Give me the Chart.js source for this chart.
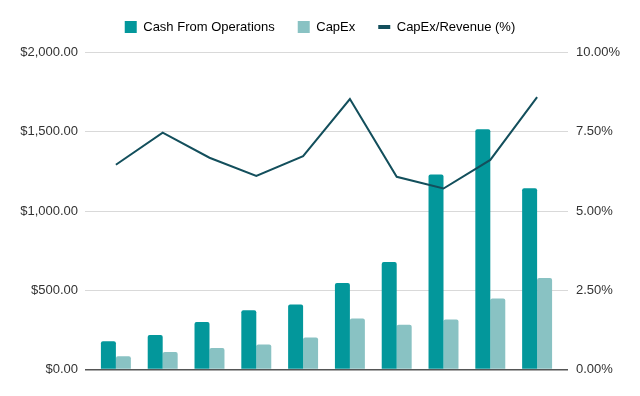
<!DOCTYPE html>
<html>
<head>
<meta charset="utf-8">
<script src="https://cdn.jsdelivr.net/npm/chart.js@4/dist/chart.umd.min.js"></script>
<style>
  html, body { margin: 0; padding: 0; background: #ffffff; }
  #wrap { width: 640px; height: 396px; position: relative; }
</style>
</head>
<body>
<div id="wrap"><canvas id="chart"></canvas></div>
<script>
// Dados (10 períodos, sem rótulos no eixo X)
const periods = [1, 2, 3, 4, 5, 6, 7, 8, 9, 10];
const cashFromOps = [178, 218, 299, 374, 410, 545, 679, 1231, 1515, 1143];
const capex = [83, 110, 136, 158, 202, 322, 282, 316, 448, 578];
const capexRevenuePct = [6.46, 7.47, 6.68, 6.11, 6.73, 8.53, 6.08, 5.71, 6.61, 8.59];

const leftTicks = [0, 500, 1000, 1500, 2000];
const rightTicks = [0, 2.5, 5, 7.5, 10];

const COLOR_CASH = "#03979b";
const COLOR_CAPEX = "#89c2c3";
const COLOR_LINE = "#134f5c";

Chart.defaults.font.family = "'Liberation Sans', Arial, sans-serif";
Chart.defaults.font.size = 13;
Chart.defaults.color = "#333333";

// converte para pontos {x, y} usando o índice do período
function toPoints(values) {
  return values.map((v, i) => ({ x: periods[i] - 1, y: v }));
}

new Chart(document.getElementById("chart"), {
  data: {
    datasets: [
      {
        type: "bar",
        label: "Cash From Operations",
        data: toPoints(cashFromOps),
        backgroundColor: COLOR_CASH,
        borderRadius: { topLeft: 2, topRight: 2 },
        borderSkipped: "start",
        categoryPercentage: 0.64,
        barPercentage: 1,
        yAxisID: "y",
        order: 2,
      },
      {
        type: "bar",
        label: "CapEx",
        data: toPoints(capex),
        backgroundColor: COLOR_CAPEX,
        borderRadius: { topLeft: 2, topRight: 2 },
        borderSkipped: "start",
        categoryPercentage: 0.64,
        barPercentage: 1,
        yAxisID: "y",
        order: 2,
      },
      {
        type: "line",
        label: "CapEx/Revenue (%)",
        data: toPoints(capexRevenuePct),
        borderColor: COLOR_LINE,
        backgroundColor: COLOR_LINE,
        borderWidth: 2,
        pointRadius: 0,
        tension: 0,
        yAxisID: "y1",
        order: 1,
      },
    ],
  },
  options: {
    responsive: true,
    maintainAspectRatio: false,
    animation: false,
    layout: { padding: { top: -2.5, bottom: 26.5, left: 0, right: 0 } },
    plugins: {
      tooltip: { enabled: false },
      // espaçador abaixo da legenda
      subtitle: {
        display: true,
        text: "",
        weight: 500,
        padding: 0,
        font: { size: 7.5 },
      },
      legend: {
        position: "top",
        labels: {
          usePointStyle: true,
          pointStyleWidth: 12,
          boxHeight: 12,
          padding: 23,
          color: "#333333",
          generateLabels: (chart) =>
            chart.data.datasets.map((ds, i) => ({
              text: ds.label,
              datasetIndex: i,
              fillStyle: ds.type === "line" ? COLOR_LINE : ds.backgroundColor,
              strokeStyle: ds.type === "line" ? COLOR_LINE : ds.backgroundColor,
              lineWidth: ds.type === "line" ? 4 : 0,
              pointStyle: ds.type === "line" ? "line" : "rect",
              hidden: !chart.isDatasetVisible(i),
            })),
        },
      },
    },
    scales: {
      x: {
        type: "linear",
        min: -0.66,
        max: 9.66,
        offset: false,
        display: false,
      },
      y: {
        position: "left",
        min: 0,
        max: 2000,
        afterBuildTicks: (axis) => {
          axis.ticks = leftTicks.map((v) => ({ value: v }));
        },
        afterFit: (axis) => {
          axis.width = 85;
        },
        border: { display: false },
        grid: {
          drawTicks: false,
          color: (ctx) => (ctx.tick && ctx.tick.value === 0 ? "#555555" : "#d9d9d9"),
          lineWidth: (ctx) => (ctx.tick && ctx.tick.value === 0 ? 1.5 : 1),
        },
        ticks: {
          padding: 7,
          color: "#333333",
          callback: (v) =>
            "$" + Number(v).toLocaleString("en-US", { minimumFractionDigits: 2, maximumFractionDigits: 2 }),
        },
      },
      y1: {
        position: "right",
        min: 0,
        max: 10,
        afterBuildTicks: (axis) => {
          axis.ticks = rightTicks.map((v) => ({ value: v }));
        },
        afterFit: (axis) => {
          axis.width = 72;
        },
        border: { display: false },
        grid: { display: false, drawTicks: false },
        ticks: {
          padding: 8,
          color: "#333333",
          callback: (v) => Number(v).toFixed(2) + "%",
        },
      },
    },
  },
});
</script>
</body>
</html>
